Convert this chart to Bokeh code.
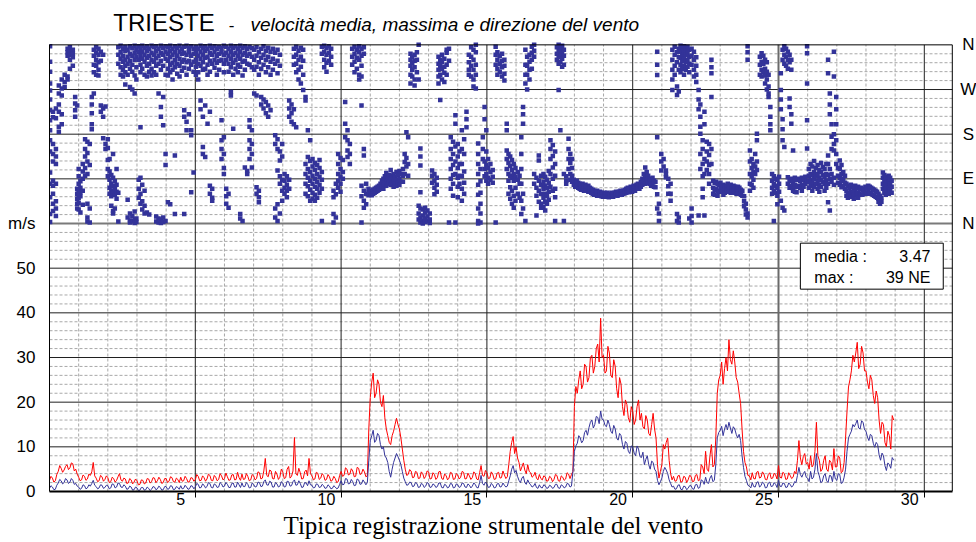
from bokeh.plotting import figure
from bokeh.models import Range1d, FixedTicker, BoxAnnotation, Label, Title
from bokeh.embed import file_html
from bokeh.resources import INLINE

# ---------------- data ----------------
# wind speed samples every 0.05 day (m/s)
time_step = 0.05
max_speed = [
    2.5, 3.4, 3.0, 2.1, 2.4, 3.8, 4.5, 5.8, 5.2, 4.3, 4.8, 5.6, 6.0, 4.9, 5.3, 6.4, 6.2, 4.6, 5.0, 3.9,
    3.2, 2.4, 2.6, 3.7, 3.4, 2.5, 2.8, 3.9, 3.6, 4.4, 6.5, 3.5, 3.0, 2.2, 2.4, 3.6, 3.3, 2.3, 2.7, 3.5,
    3.1, 2.0, 2.2, 3.2, 2.9, 2.1, 2.5, 3.3, 4.0, 2.6, 2.3, 3.0, 2.8, 1.8, 1.9, 2.9, 2.6, 1.7, 2.1, 2.8,
    2.4, 1.5, 1.6, 2.6, 2.5, 1.7, 1.9, 2.9, 2.8, 1.9, 2.2, 3.1, 3.0, 2.0, 2.4, 3.2, 2.7, 1.8, 2.0, 2.9,
    2.9, 2.0, 2.3, 3.3, 3.1, 2.2, 2.1, 3.0, 2.7, 2.0, 3.2, 2.3, 2.4, 3.4, 2.9, 2.1, 2.2, 3.1, 3.0, 2.3,
    2.6, 3.8, 3.4, 2.4, 2.5, 3.5, 3.1, 2.3, 2.8, 3.9, 3.6, 2.5, 2.4, 3.6, 3.2, 2.4, 2.7, 4.0, 3.5, 2.6,
    2.9, 4.1, 3.3, 2.5, 2.6, 3.7, 3.8, 2.6, 2.7, 4.3, 3.1, 2.5, 3.9, 2.7, 2.8, 4.0, 3.4, 2.4, 2.6, 3.8,
    3.5, 2.6, 2.9, 4.4, 4.2, 2.8, 3.0, 4.6, 7.4, 3.6, 3.3, 4.8, 4.6, 2.9, 2.8, 4.5, 3.9, 2.7, 3.2, 5.0,
    4.4, 2.9, 3.1, 5.0, 5.6, 3.0, 3.4, 4.6, 12.1, 4.0, 3.6, 5.2, 4.2, 2.8, 2.9, 4.4, 4.8, 3.5, 7.4, 4.0,
    3.5, 2.6, 2.8, 4.3, 4.1, 2.7, 3.0, 4.0, 3.6, 2.5, 2.7, 3.8, 3.3, 2.3, 2.5, 3.4, 2.9, 2.0, 2.2, 3.6,
    4.5, 3.4, 3.6, 5.3, 5.0, 3.7, 3.9, 5.1, 4.6, 3.3, 3.4, 5.4, 5.2, 3.8, 4.0, 5.0, 4.4, 3.3, 3.5, 14.0,
    21.0, 24.5, 26.5, 21.0, 22.0, 25.0, 24.0, 20.0, 19.0, 21.5, 16.5, 14.0, 12.5, 11.0, 10.5, 12.5, 13.5, 15.0, 16.4, 15.0,
    14.0, 12.0, 9.5, 7.0, 5.0, 3.6, 3.8, 4.9, 4.6, 3.1, 3.2, 4.5, 4.3, 2.9, 3.0, 4.4, 4.0, 2.9, 3.4, 4.6,
    4.4, 2.8, 2.9, 4.2, 3.8, 2.7, 3.1, 4.4, 4.5, 2.9, 2.7, 3.9, 3.6, 2.6, 3.0, 4.3, 4.1, 2.7, 2.8, 4.0,
    3.7, 2.8, 3.2, 4.5, 4.3, 2.8, 2.9, 4.1, 3.5, 2.7, 3.1, 4.4, 4.0, 2.8, 2.6, 4.2, 5.8, 3.6, 3.4, 4.7,
    4.2, 2.9, 3.0, 4.4, 3.9, 2.7, 2.8, 4.1, 4.3, 3.0, 3.1, 4.6, 3.7, 2.9, 3.3, 6.0, 9.0, 11.0, 12.3, 8.5,
    10.0, 7.5, 6.5, 4.6, 5.5, 6.4, 4.8, 4.0, 6.0, 4.5, 4.2, 3.2, 3.5, 4.3, 3.0, 2.6, 3.8, 2.9, 2.6, 3.5,
    3.3, 2.3, 2.4, 3.4, 3.1, 2.2, 2.7, 3.8, 3.6, 2.4, 2.3, 3.5, 3.2, 2.5, 2.8, 4.2, 3.9, 2.9, 3.8, 4.5,
    19.0, 23.5, 22.0, 25.0, 27.0, 23.0, 24.0, 28.5, 28.0, 24.5, 25.5, 30.0, 30.5, 26.5, 28.0, 32.0, 33.0, 29.0, 38.8, 30.0,
    30.5, 26.5, 27.0, 32.5, 31.0, 26.0, 25.5, 29.5, 28.0, 23.0, 21.0, 25.5, 24.0, 19.0, 17.0, 20.5, 19.5, 16.5, 15.5, 19.0,
    18.0, 15.0, 16.0, 19.0, 20.5, 16.0, 17.5, 14.5, 14.0, 17.0, 16.0, 13.0, 12.5, 15.0, 17.5, 14.0, 12.0, 6.0, 3.0, 4.5,
    6.0, 10.5, 9.5, 11.0, 12.0, 7.0, 4.0, 2.6, 3.4, 2.3, 2.4, 3.5, 3.6, 2.1, 2.2, 3.4, 3.2, 2.0, 2.6, 3.6,
    3.4, 2.2, 2.3, 3.6, 3.8, 2.4, 2.6, 6.0, 5.5, 4.0, 9.0, 5.0, 4.5, 8.0, 10.5, 5.5, 6.0, 12.0, 22.0, 25.0,
    26.0, 29.0, 24.0, 27.5, 30.0, 27.0, 34.0, 29.5, 28.5, 31.5, 29.0, 25.5, 24.5, 22.0, 19.7, 14.0, 9.0, 6.5, 5.5, 3.6,
    3.5, 2.6, 4.2, 2.9, 2.8, 4.3, 4.5, 3.0, 3.2, 4.4, 3.9, 2.7, 2.6, 3.8, 4.2, 2.9, 3.0, 4.1, 3.7, 2.8,
    5.8, 3.2, 3.0, 4.3, 4.0, 2.7, 2.8, 4.2, 3.6, 2.9, 3.2, 4.5, 4.0, 7.0, 11.4, 7.5, 6.0, 7.8, 8.5, 6.2,
    6.5, 5.0, 8.0, 5.5, 6.0, 9.0, 15.5, 8.0, 7.0, 4.5, 5.0, 7.0, 8.0, 5.0, 4.5, 7.0, 6.5, 4.8, 9.6, 5.5,
    5.5, 8.0, 7.5, 4.2, 4.5, 6.5, 12.0, 18.0, 23.4, 25.0, 27.0, 30.5, 29.0, 31.0, 33.4, 27.5, 28.5, 32.5, 31.0, 27.0,
    27.0, 24.5, 23.0, 26.0, 25.0, 21.5, 19.7, 22.5, 21.0, 16.0, 13.0, 15.5, 15.0, 11.0, 10.0, 13.5, 12.5, 9.5, 17.0, 16.0,
]
mean_speed = [
    0.7, 1.3, 1.0, 0.4, 0.5, 1.4, 1.9, 2.7, 2.4, 1.7, 2.0, 2.9, 2.6, 1.8, 2.1, 2.9, 2.5, 1.6, 1.8, 1.2,
    1.0, 0.5, 0.7, 1.5, 1.3, 0.6, 0.8, 1.5, 1.2, 1.8, 2.5, 1.4, 1.1, 0.6, 0.8, 1.5, 1.4, 0.7, 0.9, 1.4,
    1.3, 0.6, 0.8, 1.7, 1.6, 0.8, 1.0, 1.9, 1.8, 1.0, 0.9, 1.5, 1.2, 0.5, 0.6, 1.2, 1.0, 0.3, 0.4, 1.0,
    0.8, 0.2, 0.3, 0.9, 0.9, 0.3, 0.4, 1.0, 0.7, 0.2, 0.5, 1.1, 1.0, 0.4, 0.6, 1.2, 0.9, 0.3, 0.4, 1.1,
    1.1, 0.5, 0.6, 1.3, 1.2, 0.4, 0.5, 1.1, 0.9, 0.5, 1.3, 0.6, 0.7, 1.4, 1.0, 0.5, 0.6, 1.3, 1.2, 0.6,
    1.0, 1.8, 1.6, 0.8, 0.9, 1.7, 1.4, 0.8, 1.1, 2.0, 1.8, 0.9, 0.8, 1.7, 1.5, 0.9, 1.0, 2.0, 1.7, 1.0,
    1.2, 2.0, 1.6, 0.9, 0.9, 1.8, 1.9, 1.0, 1.0, 2.1, 1.5, 0.9, 1.9, 1.1, 1.1, 2.0, 1.6, 0.8, 0.9, 1.9,
    1.6, 1.0, 1.1, 2.1, 2.0, 1.1, 1.2, 2.2, 2.6, 1.5, 1.4, 2.3, 2.1, 1.0, 1.0, 2.0, 1.7, 1.0, 1.2, 2.2,
    1.9, 1.0, 1.1, 2.3, 2.2, 1.2, 1.3, 2.2, 2.6, 1.4, 1.5, 2.4, 1.8, 0.9, 1.0, 2.0, 1.9, 1.3, 2.4, 1.5,
    1.4, 0.8, 0.9, 1.7, 1.6, 0.9, 1.0, 1.6, 1.3, 0.7, 0.8, 1.5, 1.2, 0.6, 0.7, 1.3, 1.0, 0.6, 0.8, 1.6,
    2.4, 1.5, 1.6, 2.9, 2.8, 1.7, 1.8, 2.7, 2.2, 1.3, 1.4, 2.8, 2.6, 1.6, 1.7, 2.6, 2.1, 1.5, 2.0, 7.0,
    11.4, 12.5, 13.7, 11.0, 11.5, 13.0, 12.5, 10.5, 9.5, 10.0, 8.0, 7.5, 6.5, 4.5, 3.2, 5.0, 6.5, 7.5, 8.5, 7.8,
    7.0, 6.0, 4.5, 3.0, 2.2, 1.4, 1.5, 2.1, 2.0, 1.1, 1.2, 2.0, 1.8, 0.9, 1.0, 1.8, 1.6, 0.9, 1.2, 2.0,
    1.8, 0.9, 1.0, 1.7, 1.5, 0.9, 1.1, 1.9, 1.9, 0.9, 0.8, 1.6, 1.4, 0.8, 1.0, 1.8, 1.7, 0.8, 0.9, 1.7,
    1.5, 0.9, 1.1, 1.9, 1.8, 1.0, 0.9, 1.7, 1.4, 0.8, 1.2, 1.9, 1.6, 0.9, 0.8, 2.0, 3.6, 1.8, 1.4, 2.1,
    1.7, 0.9, 1.0, 1.8, 1.5, 0.8, 0.9, 1.7, 1.8, 1.0, 1.1, 1.9, 1.4, 1.0, 1.2, 2.4, 3.5, 5.0, 5.8, 4.2,
    4.7, 3.4, 2.5, 2.0, 3.0, 3.4, 2.0, 1.6, 2.6, 1.9, 1.5, 1.0, 1.2, 1.8, 0.9, 0.7, 1.5, 0.9, 0.8, 1.5,
    1.3, 0.7, 0.8, 1.4, 1.2, 0.7, 0.9, 1.6, 1.6, 0.8, 0.7, 1.5, 1.3, 0.8, 1.0, 1.8, 1.7, 1.0, 1.2, 4.5,
    9.0, 10.2, 10.8, 12.5, 12.0, 10.9, 11.4, 13.2, 13.7, 12.6, 14.3, 15.5, 16.0, 14.2, 15.0, 16.8, 16.6, 15.2, 18.0, 16.2,
    16.0, 14.8, 14.5, 16.0, 15.0, 13.5, 13.0, 14.8, 14.0, 12.0, 11.5, 13.0, 12.5, 10.5, 9.5, 11.2, 10.8, 9.0, 8.5, 10.2,
    10.0, 8.6, 8.0, 10.2, 9.5, 7.8, 7.6, 8.8, 6.0, 7.2, 8.0, 6.0, 5.0, 6.8, 6.5, 5.0, 4.5, 2.5, 1.5, 2.2,
    3.0, 4.5, 5.4, 4.8, 4.0, 2.6, 1.8, 1.0, 1.2, 0.5, 0.6, 1.4, 1.5, 0.5, 0.4, 1.2, 1.1, 0.4, 0.7, 1.3,
    1.3, 0.6, 0.5, 1.5, 1.6, 0.7, 0.9, 2.6, 2.4, 1.6, 3.2, 2.0, 1.8, 3.0, 3.6, 2.2, 2.5, 6.0, 12.0, 13.2,
    13.7, 14.6, 12.5, 14.0, 15.0, 13.8, 15.5, 14.2, 13.0, 14.5, 14.0, 12.8, 12.0, 12.8, 11.4, 8.0, 5.4, 3.4, 2.5, 1.4,
    1.2, 0.8, 2.0, 1.1, 1.0, 2.0, 2.2, 1.0, 1.3, 2.1, 1.8, 0.8, 0.9, 1.9, 2.1, 1.1, 1.2, 2.0, 1.6, 0.9,
    2.5, 1.2, 1.1, 1.9, 1.8, 0.9, 1.0, 1.9, 1.6, 1.0, 1.3, 2.2, 2.0, 3.6, 5.4, 3.8, 3.2, 4.0, 4.5, 3.2,
    3.0, 2.2, 4.5, 2.8, 3.2, 5.0, 8.5, 4.5, 3.5, 2.0, 2.2, 3.5, 4.0, 2.4, 2.0, 3.6, 3.5, 2.2, 4.5, 2.8,
    2.5, 4.0, 3.8, 1.8, 2.0, 3.2, 5.0, 9.0, 12.0, 12.8, 13.5, 15.0, 14.5, 15.2, 16.0, 14.2, 14.0, 15.8, 15.5, 13.8,
    13.5, 12.2, 11.4, 12.8, 12.5, 10.8, 9.9, 11.0, 10.5, 8.2, 7.0, 8.6, 8.0, 5.8, 4.7, 6.4, 6.0, 5.2, 7.6, 7.0,
]

# wind direction observations: (day, [directions in degrees, 0 = N, 90 = E, 180 = S, 270 = W])
direction_days_0_10 = [
    (0.02, [357, 326, 306, 282, 268, 250, 228, 208, 188, 168, 145, 103, 80, 53, 19, 3]),
    (0.12, [225, 214, 160, 140, 125, 86, 76, 60, 40, 25]),
    (0.22, [232, 212, 150, 135, 120, 80, 45, 30, 15]),
    (0.32, [278, 262, 240, 225, 195, 185]),
    (0.42, [290, 272, 258, 220, 200]),
    (0.52, [300, 285, 275]),
    (0.62, [352, 345, 338, 296, 290]),
    (0.70, [355, 347, 340, 330, 312]),
    (0.80, [350, 342, 335, 318]),
    (0.88, [255, 242, 228, 215]),
    (0.95, [70, 60, 50, 40, 30, 238]),
    (1.00, [110, 95, 80, 68, 60, 52, 42, 28]),
    (1.06, [85, 72, 63, 55, 22]),
    (1.14, [120, 105, 90, 66, 38]),
    (1.22, [170, 150, 135, 112, 96]),
    (1.30, [165, 142, 125, 100, 40, 12, 4]),
    (1.38, [160, 118, 30, 2]),
    (1.45, [255, 240, 222, 200, 190]),
    (1.52, [350, 338, 320, 305, 262]),
    (1.60, [355, 344, 330, 318, 300]),
    (1.68, [352, 340, 325, 310, 298]),
    (1.76, [346, 328, 238, 225]),
    (1.84, [340, 232, 215, 172]),
    (1.92, [236, 160, 150]),
    (2.00, [170, 152, 128, 110, 95]),
    (2.06, [130, 105, 88, 72, 60]),
    (2.12, [98, 80, 66, 55, 36]),
    (2.18, [140, 92, 75, 62, 25, 20]),
    (2.24, [85, 70, 58, 30]),
    (2.30, [110, 78, 64, 50]),
    (2.36, [355, 340, 322, 62, 4]),
    (2.44, [358, 345, 332, 315, 300]),
    (2.52, [352, 338, 326, 310, 296]),
    (2.60, [356, 348, 330, 318, 305, 280]),
    (2.68, [350, 336, 322, 300, 48, 12]),
    (2.76, [357, 342, 328, 312, 275, 20, 6, 2]),
    (2.84, [353, 338, 320, 306, 270, 15, 5]),
    (2.92, [358, 344, 330, 298, 262, 24, 8, 1]),
    (2.98, [350, 336, 315, 290, 10, 3]),
    (3.06, [357, 345, 330, 88, 70, 52]),
    (3.12, [352, 338, 320, 305, 92, 60, 40, 194]),
    (3.18, [358, 346, 332, 312, 78, 45, 28]),
    (3.26, [354, 340, 326, 300, 66, 36, 20]),
    (3.34, [357, 348, 334, 318, 296, 22]),
    (3.42, [352, 338, 322, 306, 18]),
    (3.50, [358, 344, 330, 312, 298]),
    (3.58, [355, 340, 326, 305]),
    (3.66, [357, 347, 333, 318, 300, 14, 4]),
    (3.74, [352, 338, 322, 262, 10, 2]),
    (3.82, [358, 344, 328, 310, 235, 215, 8, 1]),
    (3.90, [354, 340, 318, 255, 198, 12, 3]),
    (3.98, [357, 346, 332, 300, 140, 118, 5]),
    (4.06, [355, 342, 328, 312, 298, 43]),
    (4.14, [358, 348, 335, 320, 305, 39]),
    (4.22, [352, 340, 324, 310, 290]),
    (4.30, [357, 345, 330, 315, 137, 19]),
    (4.38, [354, 338, 322, 302]),
    (4.46, [358, 346, 332, 318, 296]),
    (4.54, [352, 342, 326, 308]),
    (4.62, [356, 344, 330, 314, 228, 215, 19]),
    (4.70, [358, 340, 325, 300, 205, 188]),
    (4.78, [353, 345, 328, 312, 220]),
    (4.86, [357, 338, 320, 188, 178, 63]),
    (4.94, [352, 342, 326, 306, 103]),
    (5.02, [356, 344, 330, 316, 300]),
    (5.10, [352, 338, 322, 305, 290]),
    (5.18, [358, 346, 332, 318, 248, 230]),
    (5.26, [354, 340, 325, 310, 215, 154, 140]),
    (5.34, [357, 348, 334, 312, 238, 134]),
    (5.42, [352, 336, 320, 300, 201]),
    (5.50, [358, 344, 328, 306, 225, 76, 60]),
    (5.58, [354, 340, 322, 70, 52, 46]),
    (5.66, [357, 346, 330, 314]),
    (5.74, [352, 338, 324, 300]),
    (5.82, [356, 342, 328, 310]),
    (5.90, [353, 345, 330, 208, 168, 150, 130]),
    (5.98, [358, 340, 322, 305, 174, 140, 112, 100]),
    (6.06, [356, 344, 330, 70, 55, 40]),
    (6.14, [352, 338, 322, 306, 60, 32]),
    (6.22, [358, 346, 332, 315, 265, 258]),
    (6.30, [354, 340, 324, 300, 191]),
    (6.38, [357, 344, 330, 312]),
    (6.46, [352, 338, 320, 305]),
    (6.54, [358, 346, 332, 316, 19, 10]),
    (6.62, [354, 340, 326, 298, 5]),
    (6.70, [357, 344, 328, 310, 113]),
    (6.78, [352, 338, 322, 106, 100]),
    (6.86, [356, 342, 320, 208, 195, 168, 150, 130]),
    (6.94, [353, 336, 315, 188, 160, 140, 113]),
    (7.02, [350, 330, 310, 262]),
    (7.10, [355, 338, 316, 258, 73, 60]),
    (7.18, [345, 325, 300, 66, 53, 43]),
    (7.26, [352, 334, 312, 255, 240]),
    (7.34, [357, 340, 320, 250, 232]),
    (7.42, [348, 330, 305, 245, 222]),
    (7.50, [354, 336, 315, 238, 215]),
    (7.58, [346, 326, 300, 228]),
    (7.66, [352, 332, 310]),
    (7.74, [344, 322, 178, 160, 30, 12]),
    (7.82, [350, 328, 303, 170, 150, 107, 39, 5]),
    (7.90, [340, 318, 145, 127, 95, 80, 20]),
    (7.98, [160, 135, 88, 66, 46]),
    (8.06, [100, 86, 72, 60]),
    (8.14, [95, 78, 66, 53]),
    (8.22, [248, 232, 215, 88, 70]),
    (8.30, [240, 222, 205]),
    (8.38, [352, 336, 320, 230, 200]),
    (8.46, [356, 340, 322, 305, 194]),
    (8.54, [348, 330, 310, 290]),
    (8.62, [354, 336, 316, 282]),
    (8.70, [350, 328, 300, 269]),
    (8.78, [255, 248, 120, 100, 80, 60]),
    (8.86, [188, 134, 110, 92, 75, 55]),
    (8.94, [168, 126, 104, 86, 68, 46]),
    (9.02, [130, 115, 96, 80, 62, 50]),
    (9.10, [122, 108, 90, 74, 58, 46]),
    (9.18, [118, 100, 84, 70, 52]),
    (9.26, [128, 112, 94, 78, 62]),
    (9.34, [356, 342, 104, 88, 70, 5]),
    (9.42, [358, 346, 330, 315]),
    (9.50, [354, 340, 324, 306]),
    (9.58, [357, 344, 328]),
    (9.66, [352, 336, 320]),
    (9.74, [66, 53, 19, 2]),
    (9.82, [80, 59, 12]),
    (9.90, [140, 120, 100, 86, 72]),
    (9.98, [132, 110, 94, 80, 64]),
]
direction_days_10_20 = [
    (10.06, [128, 104, 90]),
    (10.14, [245, 201, 174]),
    (10.22, [188, 168, 147, 134]),
    (10.30, [160, 140, 120]),
    (10.38, [352, 336, 320]),
    (10.46, [356, 342, 326, 305]),
    (10.54, [350, 334, 312]),
    (10.62, [357, 345, 330, 300, 290]),
    (10.70, [352, 338, 318, 296, 238, 76, 55, 2]),
    (10.78, [355, 342, 150, 137, 66, 46, 32]),
    (10.86, [80, 60, 39]),
    (10.94, [70, 62, 57]),
    (11.00, [66, 58]), (11.05, [64, 57]), (11.10, [68, 60]), (11.15, [70, 62]),
    (11.20, [72, 64]), (11.25, [74, 66]), (11.30, [76, 68]), (11.35, [80, 70]),
    (11.40, [86, 74]), (11.45, [90, 78, 70]), (11.50, [95, 82]), (11.55, [88, 76, 102]),
    (11.60, [92, 80]), (11.65, [98, 84]), (11.70, [90, 78, 108]), (11.75, [96, 82]),
    (11.80, [100, 86, 74]), (11.85, [94, 80]), (11.90, [104, 88, 76]), (11.95, [98, 82]),
    (12.00, [106, 90, 78]), (12.05, [100, 84]),
    (12.12, [110, 96, 84]),
    (12.18, [140, 124, 100]),
    (12.24, [132, 115, 184]),
    (12.30, [174, 120, 96]),
    (12.38, [342, 330, 318, 300, 282]),
    (12.44, [336, 324, 310, 296]),
    (12.52, [340, 328, 315, 290, 278]),
    (12.60, [345, 330, 305]),
    (12.66, [360, 290, 36, 20, 8]),
    (12.72, [151, 135, 117, 63, 30, 12, 2]),
    (12.80, [28, 16, 6, 0]),
    (12.88, [32, 22, 10, 3]),
    (12.96, [26, 14, 5]),
    (13.04, [20, 8, 1]),
    (13.12, [107, 96, 82]),
    (13.20, [100, 86, 72, 59]),
    (13.28, [92, 78, 64]),
    (13.34, [336, 322, 310, 296, 282]),
    (13.40, [330, 318, 300, 249]),
    (13.46, [340, 326, 312, 290]),
    (13.54, [332, 316, 304, 285]),
    (13.62, [350, 344, 320, 300]),
    (13.70, [352, 328, 2]),
    (13.76, [174, 150, 130, 110, 90, 70]),
    (13.84, [165, 140, 118, 98, 80, 56]),
    (13.92, [218, 201, 155, 125, 100, 2]),
    (14.00, [160, 135, 112, 92, 74, 53]),
    (14.06, [145, 120, 96, 80]),
    (14.14, [188, 150, 120, 95, 70, 46]),
    (14.22, [170, 140, 105, 82, 60]),
    (14.30, [225, 210, 194]),
    (14.38, [340, 325, 310, 300]),
    (14.46, [355, 336, 318, 296]),
    (14.54, [350, 330, 310, 290, 276]),
    (14.62, [360, 345, 320, 300, 272]),
    (14.70, [161, 140, 120, 100, 78, 58, 30, 5, 0]),
    (14.78, [110, 85, 62, 40, 20, 2]),
    (14.86, [174, 150, 130]),
    (14.92, [125, 110, 95, 235, 210]),
    (14.98, [145, 118, 100, 86, 188]),
    (15.04, [130, 112, 92, 80]),
    (15.12, [120, 104, 88]),
    (15.20, [108, 94, 82]),
    (15.30, [356, 340, 320, 2]),
    (15.36, [345, 330, 312, 300]),
    (15.44, [338, 322, 306]),
    (15.52, [342, 328, 315, 296]),
    (15.60, [330, 318, 302, 288]),
    (15.68, [201, 188, 147, 130, 110]),
    (15.74, [140, 122, 100, 86, 60]),
    (15.80, [135, 116, 96, 73, 50]),
    (15.86, [128, 108, 92, 66, 40]),
    (15.92, [120, 100, 86, 56, 32]),
    (15.98, [112, 94, 72, 46]),
    (16.06, [104, 88, 60]),
    (16.12, [96, 80, 52]),
    (16.18, [174, 140, 110, 80, 46, 19]),
    (16.24, [235, 220, 201, 60, 30]),
    (16.32, [350, 320, 300, 282, 5]),
    (16.38, [336, 318, 300, 270]),
    (16.46, [340, 326, 310, 290]),
    (16.54, [356, 344, 330, 312]),
    (16.62, [360, 348, 336, 100, 80]),
    (16.70, [92, 72, 56, 16]),
    (16.78, [137, 127, 86, 66, 44]),
    (16.86, [96, 78, 60, 40, 32]),
    (16.94, [100, 84, 70, 52, 34]),
    (17.00, [94, 76, 60, 44, 26]),
    (17.06, [88, 72, 56, 40]),
    (17.12, [106, 82, 64, 48]),
    (17.18, [168, 150, 130, 100, 74]),
    (17.26, [158, 136, 113, 90, 66]),
    (17.34, [145, 120, 96, 70, 53, 5]),
    (17.40, [355, 342, 330]),
    (17.46, [360, 348, 336, 322, 269]),
    (17.52, [352, 340, 326, 188]),
    (17.58, [358, 346, 332, 316]),
    (17.64, [350, 338, 320, 100, 5]),
    (17.72, [95, 86, 80]),
    (17.80, [171, 150, 130, 110]),
    (17.86, [140, 122, 100, 88]),
    (17.92, [130, 112, 96, 84]),
    (17.98, [88, 78]), (18.03, [84, 74]), (18.08, [86, 76]), (18.13, [82, 72]),
    (18.18, [80, 70]), (18.23, [78, 68]), (18.28, [80, 70]), (18.33, [76, 66]),
    (18.38, [78, 68]), (18.43, [74, 66]), (18.48, [76, 64]), (18.53, [72, 64]),
    (18.58, [70, 62]), (18.63, [68, 60]), (18.68, [66, 58]), (18.73, [64, 58]),
    (18.78, [66, 56]), (18.83, [62, 56]), (18.88, [64, 58]), (18.93, [62, 55]),
    (18.98, [60, 54]), (19.03, [62, 56]), (19.08, [60, 54]), (19.13, [62, 55]),
    (19.18, [58, 53]), (19.23, [60, 55]), (19.28, [62, 56]), (19.33, [60, 54]),
    (19.38, [62, 57]), (19.43, [64, 58]), (19.48, [62, 56]), (19.53, [64, 58]),
    (19.58, [66, 60]), (19.63, [64, 58]), (19.68, [66, 60]), (19.73, [68, 61]),
    (19.78, [70, 62]), (19.83, [72, 64]), (19.88, [70, 63]), (19.93, [74, 66]),
    (19.98, [72, 64]),
]
direction_days_20_29 = [
    (20.03, [76, 68]), (20.08, [74, 66]), (20.13, [78, 70]), (20.18, [80, 72]),
    (20.23, [78, 70]), (20.28, [84, 74]), (20.33, [90, 78]), (20.38, [100, 86]),
    (20.43, [113, 92, 80]), (20.48, [104, 88]), (20.53, [96, 82]), (20.58, [90, 80]),
    (20.63, [88, 76]), (20.68, [92, 80]), (20.73, [86, 74]), (20.78, [84, 73]),
    (20.84, [346, 320, 299, 174, 59, 30]),
    (20.90, [40, 20, 5]),
    (20.98, [140, 125, 107]),
    (21.06, [130, 115]),
    (21.14, [107, 100, 93]),
    (21.22, [90, 75, 60]),
    (21.30, [80, 60, 46]),
    (21.36, [350, 330, 310, 290, 269]),
    (21.44, [356, 340, 318, 300]),
    (21.52, [345, 325, 276, 259, 19, 5]),
    (21.58, [352, 335, 310, 266, 12, 2]),
    (21.64, [358, 346, 334, 320, 305]),
    (21.70, [354, 340, 328, 312]),
    (21.76, [357, 345, 332, 318, 300]),
    (21.82, [352, 340, 326, 310]),
    (21.88, [356, 344, 330, 316]),
    (21.94, [350, 336, 322, 305, 10]),
    (22.02, [352, 338, 320, 30, 15, 2]),
    (22.10, [346, 330, 310, 296]),
    (22.18, [335, 318, 300, 285]),
    (22.26, [269, 250, 230, 16]),
    (22.32, [240, 215, 195, 181, 140, 110]),
    (22.40, [168, 150, 120, 95, 70, 53]),
    (22.46, [225, 200, 130, 100, 16]),
    (22.54, [165, 145, 125, 108]),
    (22.62, [160, 138, 118, 100, 80]),
    (22.70, [330, 315, 303, 255, 150, 120]),
    (22.76, [86, 72, 60]), (22.81, [82, 68, 58]), (22.86, [84, 70]), (22.91, [80, 66, 56]),
    (22.96, [78, 64]), (23.01, [82, 70]), (23.06, [76, 64]), (23.11, [78, 68, 58]),
    (23.16, [74, 62]), (23.21, [76, 66]), (23.26, [80, 68]), (23.31, [74, 64]),
    (23.36, [78, 62]), (23.41, [72, 63]), (23.46, [76, 66]), (23.51, [74, 62]),
    (23.56, [70, 60]), (23.61, [74, 64]), (23.66, [72, 60]), (23.71, [68, 58]),
    (23.76, [66, 56]),
    (23.82, [55, 45, 35]),
    (23.88, [40, 28, 18]),
    (23.94, [357, 345, 330, 20, 12]),
    (24.02, [147, 125, 100, 80, 66]),
    (24.08, [130, 112, 95, 78]),
    (24.14, [120, 104, 88, 72]),
    (24.20, [140, 115, 100]),
    (24.26, [181, 168, 125, 108]),
    (24.36, [336, 320, 300]),
    (24.42, [343, 326, 310, 296]),
    (24.48, [338, 322, 305]),
    (24.54, [330, 312, 298, 282]),
    (24.60, [325, 306, 290, 270]),
    (24.66, [300, 276, 262, 255]),
    (24.72, [235, 215, 200, 188]),
    (24.78, [100, 86, 72, 60]),
    (24.84, [95, 80, 66, 5]),
    (24.90, [90, 76, 62]),
    (24.96, [88, 72, 56, 39]),
    (25.02, [94, 80, 64]),
    (25.08, [303, 269, 250, 230, 46]),
    (25.14, [350, 330, 210, 190, 168, 32]),
    (25.20, [357, 340, 322, 154, 26]),
    (25.26, [352, 336, 318]),
    (25.32, [346, 330, 312, 93, 80]),
    (25.38, [340, 325, 252, 235, 86, 72]),
    (25.44, [330, 310, 220, 201, 90, 76]),
    (25.50, [147, 84, 70, 66]),
    (25.56, [92, 78, 64]),
    (25.62, [88, 74, 63]),
    (25.68, [90, 76]),
    (25.74, [86, 72]),
    (25.80, [92, 78, 66]),
    (25.86, [88, 74]),
    (25.92, [94, 80]),
    (25.98, [357, 343, 282, 208, 151, 86]),
    (26.04, [110, 96, 84, 72]),
    (26.10, [120, 100, 88, 76]),
    (26.16, [115, 98, 82, 66]),
    (26.22, [126, 104, 90, 74]),
    (26.28, [112, 95, 80]),
    (26.34, [118, 100, 86, 70]),
    (26.40, [108, 92, 78, 64]),
    (26.46, [122, 104, 88, 74]),
    (26.52, [114, 98, 84]),
    (26.58, [110, 94, 80, 66]),
    (26.64, [120, 100, 86, 72]),
    (26.70, [330, 303, 137, 120, 98, 80, 43]),
    (26.76, [262, 240, 220, 110, 90, 26]),
    (26.82, [200, 175, 150, 100, 84]),
    (26.90, [346, 296, 180, 160, 147, 92, 78]),
    (26.98, [255, 230, 200, 168, 140, 120]),
    (27.04, [112, 96, 82]),
    (27.10, [127, 110, 92, 78]),
    (27.16, [118, 100, 86, 73]),
    (27.22, [104, 90, 76]),
    (27.28, [96, 82, 70]),
    (27.33, [80, 66, 56]), (27.38, [76, 62, 52]), (27.43, [72, 60]), (27.48, [78, 64, 54]),
    (27.53, [74, 62]), (27.58, [70, 58, 50]), (27.63, [76, 64]), (27.68, [72, 60]),
    (27.73, [74, 62, 52]), (27.78, [70, 60]), (27.83, [72, 58]), (27.88, [68, 58]),
    (27.93, [70, 60]), (27.98, [74, 62]), (28.03, [72, 60]), (28.08, [76, 64]),
    (28.13, [74, 62]), (28.18, [72, 60]), (28.23, [70, 58]), (28.28, [68, 56]),
    (28.33, [66, 54]), (28.38, [64, 52]), (28.43, [60, 50, 44]), (28.48, [56, 46, 40]),
    (28.53, [52, 44]),
    (28.58, [103, 92, 80, 70]),
    (28.63, [98, 86, 74, 62]),
    (28.68, [94, 82, 70, 58]),
    (28.73, [90, 78, 66]),
    (28.78, [96, 84, 72, 60]),
    (28.83, [92, 80, 68]),
    (28.88, [86, 74, 62]),
]

speed_ticks = [0, 10, 20, 30, 40, 50, 60]
direction_labels = ["N", "E", "S", "W", "N"]
direction_levels = [60, 70, 80, 90, 100]        # plot level of 0, 90, 180, 270, 360 deg
day_labels = ["5", "10", "15", "20", "25", "30"]
day_label_pos = [4.5, 9.5, 14.5, 19.5, 24.5, 29.5]
day_lines = [5, 10, 15, 20, 25, 30]
media_value = "3.47"
max_value = "39 NE"
title_main = "TRIESTE"
title_sub = "velocità media, massima e direzione del vento"
caption = "Tipica registrazione strumentale del vento"

# ---------------- derived ----------------
days = [round(i * time_step, 2) for i in range(len(max_speed))]
dir_x, dir_y = [], []
for block in (direction_days_0_10, direction_days_10_20, direction_days_20_29):
    for t, degs in block:
        for d in degs:
            dir_x.append(t)
            dir_y.append(60 + d / 9.0)

NAVY = "#333399"
FONT = "Liberation Sans"
X_END = 30.96      # right edge of the chart box (days)
Y_END = 100        # top of the chart box

p = figure(width=976, height=542, x_range=Range1d(0, 31.79), y_range=Range1d(0, 109.93),
           output_backend="svg", toolbar_location=None,
           min_border_left=49, min_border_right=0, min_border_top=0, min_border_bottom=51)
p.background_fill_color = "white"
p.border_fill_color = "white"
p.outline_line_color = None
p.xgrid.visible = False
p.ygrid.visible = False

# ---- grid (kept inside the chart box) ----
minor_days = [d for d in range(1, 31) if d % 5 != 0]
p.segment(x0=minor_days, y0=[0] * len(minor_days), x1=minor_days, y1=[Y_END] * len(minor_days),
          line_color="#a8a8a8", line_width=1, line_dash="3 2")
minor_levels = [v for v in range(2, 100, 2) if v % 10 != 0]
p.segment(x0=[0] * len(minor_levels), y0=minor_levels, x1=[X_END] * len(minor_levels), y1=minor_levels,
          line_color="#a8a8a8", line_width=1, line_dash="3 2")
major_levels = [10, 20, 30, 40, 50, 70, 80, 90]
p.segment(x0=[0] * len(major_levels), y0=major_levels, x1=[X_END] * len(major_levels), y1=major_levels,
          line_color="#202020", line_width=1)
p.segment(x0=[0], y0=[60], x1=[X_END], y1=[60], line_color="#7a7a7a", line_width=2)
major_days = [d for d in day_lines if d != 25]
p.segment(x0=major_days, y0=[0] * len(major_days), x1=major_days, y1=[Y_END] * len(major_days),
          line_color="#202020", line_width=1)
p.segment(x0=[25], y0=[0], x1=[25], y1=[Y_END], line_color="#6a6a6a", line_width=2)

# ---- data glyphs ----
p.scatter(dir_x, dir_y, marker="square", size=4.5, color=NAVY, line_width=0)
p.line(days, max_speed, line_color="red", line_width=1)
p.line(days, mean_speed, line_color=NAVY, line_width=1)

# ---- box border (top and right) ----
p.segment(x0=[0, X_END], y0=[Y_END, 0], x1=[X_END, X_END], y1=[Y_END, Y_END],
          line_color="black", line_width=1)

# ---- axes ----
xa = p.xaxis[0]
xa.bounds = (0, X_END)
xa.ticker = FixedTicker(ticks=day_label_pos, minor_ticks=day_lines)
xa.major_label_overrides = {pos: lab for pos, lab in zip(day_label_pos, day_labels)}
xa.major_tick_line_color = None
xa.major_tick_out = 0
xa.major_tick_in = 0
xa.minor_tick_line_color = "black"
xa.minor_tick_in = 0
xa.minor_tick_out = 6
xa.axis_line_color = "black"
xa.axis_line_width = 2
xa.major_label_text_font = FONT
xa.major_label_text_font_size = "16px"
xa.major_label_text_color = "black"
xa.major_label_standoff = -5

ya = p.yaxis[0]
ya.bounds = (0, Y_END)
ya.ticker = FixedTicker(ticks=speed_ticks)
ya.major_label_overrides = {60: "m/s"}
ya.major_tick_line_color = None
ya.minor_tick_line_color = None
ya.axis_line_color = "black"
ya.major_label_text_font = FONT
ya.major_label_text_font_size = "17px"
ya.major_label_text_color = "black"
ya.major_label_standoff = 8

# ---- caption below the axis ----
p.add_layout(Title(text=caption, align="left", offset=234, standoff=4,
                   text_font="Liberation Serif", text_font_size="25px",
                   text_font_style="normal", text_color="black"), "below")

# ---- direction labels on the right ----
for lab, lev in zip(direction_labels, direction_levels):
    p.add_layout(Label(x=31.51, y=lev, text=lab, text_font=FONT, text_font_size="17px",
                       text_color="black", text_baseline="middle", text_align="center"))

# ---- summary box ----
p.add_layout(BoxAnnotation(left=25.75, right=30.65, bottom=45.3, top=55.6,
                           fill_color="white", fill_alpha=1, line_color="black",
                           line_width=1, line_alpha=1))
for txt, xx, yy, al in [("media :", 26.23, 52.7, "left"), (media_value, 30.21, 52.7, "right"),
                        ("max :", 26.23, 48.0, "left"), (max_value, 30.21, 48.0, "right")]:
    p.add_layout(Label(x=xx, y=yy, text=txt, text_font=FONT, text_font_size="16px",
                       text_color="black", text_baseline="middle", text_align=al))

# ---- titles ----
p.add_layout(Label(x=2.19, y=105.0, text=title_main, text_font=FONT, text_font_size="24px",
                   text_color="black", text_baseline="middle", text_align="left"))
p.add_layout(Label(x=6.15, y=104.4, text="-", text_font=FONT, text_font_size="17px",
                   text_color="black", text_baseline="middle", text_align="left"))
p.add_layout(Label(x=6.89, y=104.6, text=title_sub,
                   text_font=FONT, text_font_size="19px", text_font_style="italic",
                   text_color="black", text_baseline="middle", text_align="left"))

open("out.html", "w").write(file_html(p, INLINE))
